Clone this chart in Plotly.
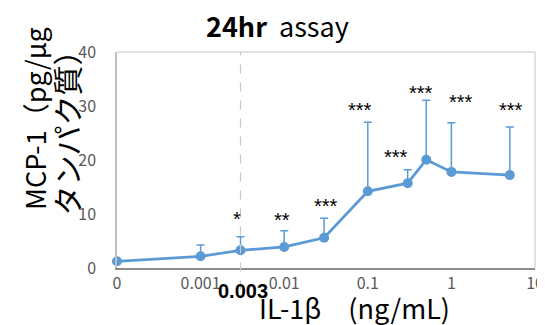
import math
import plotly.graph_objects as go

# ---- data ----
conc = [0, 0.001, 0.003, 0.01, 0.03, 0.1, 0.3, 0.5, 1, 5]          # IL-1beta ng/mL
mcp1 = [1.24, 2.17, 3.28, 3.9, 5.6, 14.2, 15.7, 20.05, 17.8, 17.2]   # pg/ug protein
err_up = [0, 2.1, 2.5, 3.0, 3.6, 12.8, 2.5, 11.0, 9.1, 8.9]
signif = ["", "", "*", "**", "***", "***", "***", "***", "***", "***"]
signif_y = [None, None, 9.6, 9.4, 12.0, 29.8, 21.1, 33.0, 31.3, 29.8]
signif_dx = [0, 0, -3, -2, 2, -8, -12, -5, 10, 1]

tick_vals = [0.0001, 0.001, 0.01, 0.1, 1, 10]
tick_text = ["0", "0.001", "0.01", "0.1", "1", "10"]
y_ticks = [0, 10, 20, 30, 40]
zero_pos = 0.0001   # where the "0" dose is drawn on the log axis
marked_conc = 0.003

FONT = "Noto Sans CJK JP"
BLUE = "#5B9BD5"

x_plot = [zero_pos if c == 0 else c for c in conc]

fig = go.Figure()
fig.add_trace(go.Scatter(
    x=x_plot, y=mcp1, mode="lines+markers",
    line=dict(color=BLUE, width=2.75),
    marker=dict(color=BLUE, size=10),
    error_y=dict(type="data", symmetric=False, array=err_up,
                 arrayminus=[0] * len(err_up), color=BLUE,
                 thickness=1.5, width=4),
    showlegend=False, cliponaxis=False,
))

annotations = []
for xv, lab, yv, dx in zip(x_plot, signif, signif_y, signif_dx):
    if lab:
        annotations.append(dict(
            x=math.log10(xv), y=yv, xref="x", yref="y", text=lab,
            showarrow=False, xshift=dx, yshift=-3,
            font=dict(family="Liberation Sans", size=20, color="black")))

# title
annotations.append(dict(
    x=0.385, y=1.122, xref="paper", yref="paper",
    text="<b>24hr</b>&nbsp;&nbsp;assay", showarrow=False,
    xanchor="center", yanchor="middle",
    font=dict(family=FONT, size=27, color="black")))
# x axis title
annotations.append(dict(
    x=0.567, y=-0.182, xref="paper", yref="paper",
    text="IL-1β　(ng/mL)", showarrow=False,
    xanchor="center", yanchor="middle",
    font=dict(family=FONT, size=27, color="black")))
# y axis title (two lines)
annotations.append(dict(
    x=-0.199, y=0.694, xref="paper", yref="paper",
    text="MCP-1（pg/μg", showarrow=False, textangle=-90,
    xanchor="center", yanchor="middle",
    font=dict(family=FONT, size=27, color="black")))
annotations.append(dict(
    x=-0.122, y=0.66, xref="paper", yref="paper",
    text="タンパク質）", showarrow=False, textangle=-90,
    xanchor="center", yanchor="middle",
    font=dict(family=FONT, size=30, color="black")))
# 0.003 marker label
annotations.append(dict(
    x=math.log10(marked_conc), y=-0.105, xref="x", yref="paper",
    text="<b>0.003</b>", showarrow=False, xshift=3,
    xanchor="center", yanchor="middle",
    font=dict(family="Liberation Sans", size=20, color="black")))

shapes = [
    dict(type="line", xref="x", yref="paper", x0=marked_conc, x1=marked_conc,
         y0=-0.1, y1=1, line=dict(color="#C8C8C8", width=1.2, dash="dash")),
    dict(type="line", xref="paper", yref="paper", x0=0, x1=1, y0=1, y1=1,
         line=dict(color="#D9D9D9", width=1.5)),
    dict(type="line", xref="paper", yref="paper", x0=1, x1=1, y0=0, y1=1,
         line=dict(color="#D9D9D9", width=1.5)),
]

fig.update_layout(
    width=545, height=325,
    margin=dict(l=109, r=9, t=44, b=65),
    paper_bgcolor="white", plot_bgcolor="white",
    annotations=annotations, shapes=shapes,
    xaxis=dict(type="log", range=[-4, 1], tickvals=tick_vals, ticktext=tick_text,
               showgrid=False, zeroline=False, showline=True,
               linecolor="#8C8C8C", linewidth=2, ticks="",
               tickfont=dict(family=FONT, size=16, color="#595959")),
    yaxis=dict(range=[0, 40], tickvals=y_ticks, showgrid=False, zeroline=False,
               showline=True, linecolor="#BFBFBF", linewidth=1.5, ticks="",
               ticklabelstandoff=16,
               tickfont=dict(family=FONT, size=16, color="#595959")),
)

fig.write_html("out.html")
